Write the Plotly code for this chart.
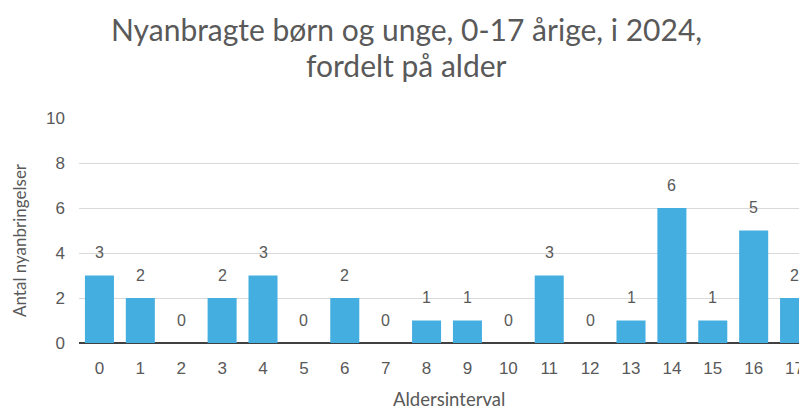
import plotly.graph_objects as go

ages = [str(i) for i in range(18)]
counts = [3, 2, 0, 2, 3, 0, 2, 0, 1, 1, 0, 3, 0, 1, 6, 1, 5, 2]
y_ticks = [0, 2, 4, 6, 8, 10]

title_line1 = "Nyanbragte børn og unge, 0-17 årige, i 2024,"
title_line2 = "fordelt på alder"
x_title = "Aldersinterval"
y_title = "Antal nyanbringelser"

grey = "#595959"
title_font = "Lato, sans-serif"
regular = "Liberation Sans, Arial, sans-serif"

# the page body adds an 8px offset; layout values below compensate for it
W, H = 807.0, 410.0
L, T, B, R = 71.0, 110.0, 75.0, 0.0

fig = go.Figure(go.Bar(
    x=ages, y=counts,
    marker=dict(color="#45AEE0", line=dict(width=0)),
    hoverinfo="x+y",
))

# data labels above bars
for a, v in zip(ages, counts):
    fig.add_annotation(x=a, y=v, xref="x", yref="y", text=str(v), showarrow=False,
                       yshift=23, font=dict(size=16, color=grey, family=regular))

fig.update_layout(
    width=int(W), height=int(H),
    margin=dict(l=L, r=R, t=T, b=B, autoexpand=False),
    paper_bgcolor="white", plot_bgcolor="white",
    bargap=0.29,
    showlegend=False,
    xaxis=dict(
        type="category", range=[-0.5, 17.5], automargin=False,
        showgrid=False, showline=False, zeroline=False,
        ticks="", ticklabelstandoff=13,
        tickfont=dict(size=17, color=grey, family=regular),
    ),
    yaxis=dict(
        range=[0, 10], tickvals=y_ticks, ticktext=[str(v) for v in y_ticks],
        automargin=False,
        showgrid=True, gridcolor="#D9D9D9", gridwidth=1,
        zeroline=True, zerolinecolor="#404040", zerolinewidth=2,
        showline=False, ticks="", ticklabelstandoff=13,
        tickfont=dict(size=17, color=grey, family=regular),
    ),
)

def py(p):
    top, bottom = T, H - B
    return (bottom - p) / (bottom - top)

def px(p):
    left, right = L, W - R
    return (p - left) / (right - left)

fig.add_annotation(x=px(398), y=py(21), xref="paper", yref="paper", text=title_line1,
                   showarrow=False, xanchor="center", yanchor="middle",
                   font=dict(size=30, color=grey, family=title_font))
fig.add_annotation(x=px(398), y=py(57), xref="paper", yref="paper", text=title_line2,
                   showarrow=False, xanchor="center", yanchor="middle",
                   font=dict(size=30, color=grey, family=title_font))
fig.add_annotation(x=px(441), y=py(391), xref="paper", yref="paper", text=x_title,
                   showarrow=False, xanchor="center", yanchor="middle",
                   font=dict(size=18.5, color=grey, family=title_font))
fig.add_annotation(x=px(11), y=py(232), xref="paper", yref="paper", text=y_title,
                   showarrow=False, xanchor="center", yanchor="middle", textangle=-90,
                   font=dict(size=17, color=grey, family=title_font))

fig.write_html("out.html")
